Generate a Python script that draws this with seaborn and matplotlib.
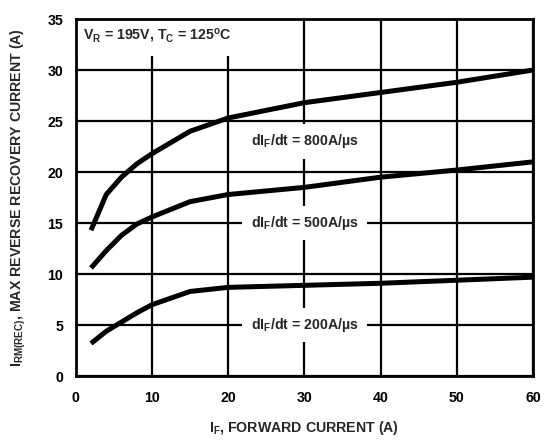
import numpy as np
import pandas as pd
import matplotlib
matplotlib.use("Agg")
import matplotlib.pyplot as plt
import seaborn as sns

# Data
if_800 = [2, 4, 6, 8, 10, 15, 20, 30, 40, 50, 60]
irm_800 = [14.3, 17.8, 19.5, 20.8, 21.8, 24.0, 25.3, 26.8, 27.8, 28.8, 30.0]
if_500 = [2, 4, 6, 8, 10, 15, 20, 30, 40, 50, 60]
irm_500 = [10.6, 12.3, 13.8, 14.9, 15.6, 17.1, 17.8, 18.5, 19.5, 20.2, 21.0]
if_200 = [2, 4, 6, 8, 10, 15, 20, 30, 40, 50, 60]
irm_200 = [3.2, 4.4, 5.3, 6.2, 7.0, 8.3, 8.7, 8.9, 9.1, 9.4, 9.7]
series_names = ["800", "500", "200"]
x_ticks = [0, 10, 20, 30, 40, 50, 60]
y_ticks = [0, 5, 10, 15, 20, 25, 30, 35]

df = pd.concat([
    pd.DataFrame({"IF": if_800, "IRM": irm_800, "s": "800"}),
    pd.DataFrame({"IF": if_500, "IRM": irm_500, "s": "500"}),
    pd.DataFrame({"IF": if_200, "IRM": irm_200, "s": "200"}),
])

sns.set_style("white")
plt.rcParams['font.family'] = ['Liberation Sans', 'DejaVu Sans']
plt.rcParams['font.weight'] = 'bold'
plt.rcParams['mathtext.fontset'] = 'custom'
plt.rcParams['mathtext.rm'] = 'Liberation Sans:bold'
plt.rcParams['mathtext.it'] = 'Liberation Sans:bold'
plt.rcParams['mathtext.bf'] = 'Liberation Sans:bold'
plt.rcParams['mathtext.sf'] = 'Liberation Sans:bold'

FS = 10.2
fig = plt.figure(figsize=(5.45, 4.42), dpi=100)
ax = fig.add_axes([0.139, 0.149, 0.839, 0.808])

ax.set_xlim(0, 60)
ax.set_ylim(0, 35)
ax.set_xticks(x_ticks)
ax.set_yticks(y_ticks)
ax.grid(True, color="black", linewidth=1.6, zorder=1)
ax.set_axisbelow(True)

sns.lineplot(data=df, x="IF", y="IRM", units="s", estimator=None,
             color="black", linewidth=3.6, ax=ax, legend=False, zorder=3,
             solid_capstyle="butt")

for sp in ax.spines.values():
    sp.set_linewidth(2)
    sp.set_color("black")
    sp.set_zorder(5)

ax.tick_params(axis="x", length=0, pad=11, labelsize=FS, colors="black")
ax.tick_params(axis="y", length=0, pad=9, labelsize=FS, colors="black")
for lab in ax.get_xticklabels() + ax.get_yticklabels():
    lab.set_fontweight("bold")

ax.set_xlabel(r"$\mathrm{I_F}$, FORWARD CURRENT (A)", fontsize=FS,
              fontweight="bold", labelpad=10)
ax.set_ylabel(r"$\mathrm{I_{RM(REC)}}$, MAX REVERSE RECOVERY CURRENT (A)",
              fontsize=FS, fontweight="bold", labelpad=14)

box = dict(facecolor="white", edgecolor="none", pad=6)
label_pos = [(30, 23.0), (30, 15.0), (30, 5.0)]
for name, (lx, ly) in zip(series_names, label_pos):
    ax.text(lx, ly, r"$\mathrm{dI_F}$/dt = " + name + "A/µs", ha="center",
            va="center", fontsize=FS, fontweight="bold", bbox=box, zorder=4)

ax.text(1.0, 33.3, r"$\mathrm{V_R}$ = 195V, $\mathrm{T_C}$ = 125$\mathrm{^o}$C",
        ha="left", va="center", fontsize=FS, fontweight="bold",
        bbox=dict(facecolor="white", edgecolor="none", pad=8), zorder=4)

fig.savefig("out.png", dpi=100)
